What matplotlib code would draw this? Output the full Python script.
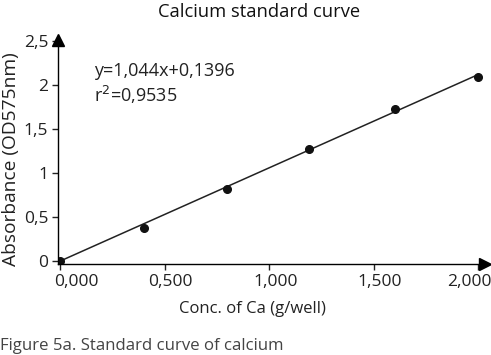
import numpy as np
import matplotlib.pyplot as plt
import matplotlib.transforms as mtransforms
from matplotlib.ticker import FixedLocator, FixedFormatter

plt.rcParams['font.family'] = ['Open Sans', 'DejaVu Sans']

# datos
conc = [0.0, 0.40, 0.80, 1.19, 1.60, 2.00]
absorb = [0.0, 0.375, 0.82, 1.27, 1.73, 2.09]

x_ticks = [0.0, 0.5, 1.0, 1.5, 2.0]
x_labels = ['0,000', '0,500', '1,000', '1,500', '2,000']
y_ticks = [0.0, 0.5, 1.0, 1.5, 2.0, 2.5]
y_labels = ['0', '0,5', '1', '1,5', '2', '2,5']

eq_text = 'y=1,044x+0,1396'
r2_text = 'r$^2$=0,9535'

fig = plt.figure(figsize=(4.91, 3.55), dpi=100)
ax = fig.add_axes([0.118, 0.256, 0.87, 0.631])

# recta ajustada
m, b = np.polyfit(conc, absorb, 1)
x_fit = np.array([conc[0], conc[-1]])
ax.plot(x_fit, [absorb[0], m * x_fit[-1] + b], color='#222222', lw=1.1)
ax.plot(conc, absorb, 'o', color='#111111', ms=5.5)

ax.set_xlim(-0.01, 2.033)
ax.set_ylim(-0.034, 2.51)

ax.spines['top'].set_visible(False)
ax.spines['right'].set_visible(False)
ax.spines['left'].set_linewidth(1.0)
ax.spines['bottom'].set_linewidth(1.0)

# flechas al final de los ejes
ax.plot(1, 0, '>k', ms=8, transform=ax.transAxes, clip_on=False)
ax.plot(0, 1, '^k', ms=8, transform=ax.transAxes, clip_on=False)

ax.xaxis.set_major_locator(FixedLocator(x_ticks))
ax.xaxis.set_major_formatter(FixedFormatter(x_labels))
ax.yaxis.set_major_locator(FixedLocator(y_ticks))
ax.yaxis.set_major_formatter(FixedFormatter(y_labels))
ax.tick_params(axis='both', labelsize=12.5, colors='#222222', length=4, width=1, pad=3)

# las etiquetas del eje x estan corridas en el original
fig.canvas.draw()
shifts = [16, 6, 7, 6, -9]
for lab, dx in zip(ax.get_xticklabels(), shifts):
    lab.set_transform(lab.get_transform() + mtransforms.ScaledTranslation(dx / 100, 0, fig.dpi_scale_trans))

ax.set_xlabel('Conc. of Ca (g/well)', fontsize=12, color='#222222')
ax.xaxis.set_label_coords(0.455, -0.165)
ax.set_ylabel('Absorbance (OD575nm)', fontsize=13.8, color='#222222')
ax.yaxis.set_label_coords(-0.088, 0.47)
ax.set_title('Calcium standard curve', fontsize=13.2, color='#111111', pad=17)
ax.title.set_position((0.47, 1.0))

ax.text(0.085, 0.863, eq_text, transform=ax.transAxes, fontsize=13, color='#222222', va='center')
ax.text(0.085, 0.754, r2_text, transform=ax.transAxes, fontsize=13, color='#222222', va='center')

fig.text(0.0, 0.025, 'Figure 5a. Standard curve of calcium', fontsize=12.1, color='#444444', ha='left', va='center')

plt.savefig('out.png', dpi=100)
